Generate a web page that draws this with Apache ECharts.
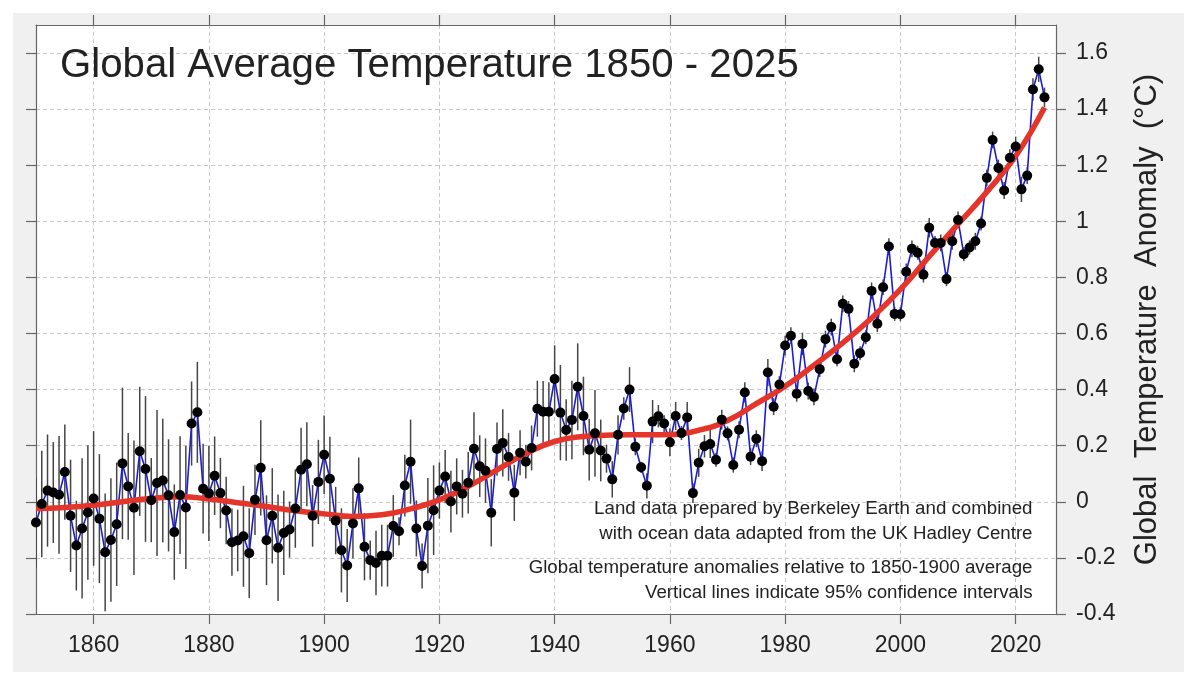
<!DOCTYPE html>
<html>
<head>
<meta charset="utf-8">
<script src="https://cdn.jsdelivr.net/npm/echarts@6.0.0/dist/echarts.min.js"></script>
<style>
  html, body { margin: 0; padding: 0; background: #fff; }
  #main { position: absolute; left: 13px; top: 13px; width: 1171px; height: 659px; }
</style>
</head>
<body>
<div id="main"></div>
<script>
// annual anomalies, 1850 .. 2025 (°C, relative to 1850-1900)
const startYear = 1850;
const anomaly = [
  -0.074, -0.008, 0.04, 0.033, 0.025, 0.106, -0.05, -0.156, -0.095, -0.038,
  0.012, -0.06, -0.18, -0.136, -0.08, 0.137, 0.055, -0.021, 0.18, 0.117,
  0.006, 0.067, 0.076, 0.023, -0.108, 0.024, -0.02, 0.279, 0.319, 0.047,
  0.03, 0.093, 0.031, -0.031, -0.144, -0.138, -0.123, -0.183, 0.007, 0.121,
  -0.137, -0.05, -0.164, -0.111, -0.099, -0.024, 0.114, 0.134, -0.05, 0.071,
  0.168, 0.082, -0.067, -0.173, -0.227, -0.077, 0.048, -0.16, -0.208, -0.218,
  -0.192, -0.192, -0.086, -0.105, 0.058, 0.143, -0.095, -0.229, -0.085, -0.03,
  0.04, 0.09, 0.001, 0.055, 0.029, 0.068, 0.189, 0.127, 0.111, -0.039,
  0.188, 0.21, 0.16, 0.032, 0.175, 0.143, 0.192, 0.332, 0.321, 0.321,
  0.438, 0.318, 0.256, 0.292, 0.41, 0.306, 0.186, 0.244, 0.183, 0.154,
  0.08, 0.239, 0.333, 0.4, 0.196, 0.123, 0.057, 0.286, 0.305, 0.279,
  0.212, 0.306, 0.245, 0.301, 0.031, 0.139, 0.198, 0.206, 0.15, 0.293,
  0.244, 0.131, 0.257, 0.39, 0.161, 0.225, 0.145, 0.461, 0.339, 0.418,
  0.557, 0.592, 0.385, 0.563, 0.395, 0.374, 0.473, 0.58, 0.623, 0.508,
  0.706, 0.688, 0.492, 0.53, 0.587, 0.752, 0.635, 0.765, 0.91, 0.67,
  0.669, 0.82, 0.902, 0.888, 0.81, 0.977, 0.923, 0.923, 0.794, 0.929,
  1.005, 0.883, 0.907, 0.929, 0.992, 1.155, 1.29, 1.19, 1.11, 1.227,
  1.267, 1.114, 1.163, 1.47, 1.542, 1.442
];
// half width of the 95% confidence interval
const uncertainty = [
  0.16, 0.19, 0.2, 0.18, 0.21, 0.17, 0.2, 0.16, 0.25, 0.24,
  0.24, 0.23, 0.21, 0.22, 0.22, 0.27, 0.19, 0.24, 0.23, 0.26,
  0.15, 0.26, 0.22, 0.2, 0.17, 0.21, 0.22, 0.15, 0.18, 0.16,
  0.17, 0.14, 0.125, 0.12, 0.12, 0.11, 0.18, 0.16, 0.125, 0.17,
  0.16, 0.17, 0.19, 0.15, 0.1, 0.14, 0.15, 0.15, 0.11, 0.15,
  0.14, 0.15, 0.12, 0.15, 0.13, 0.125, 0.11, 0.12, 0.07, 0.115,
  0.11, 0.11, 0.11, 0.05, 0.11, 0.15, 0.1, 0.08, 0.17, 0.16,
  0.1, 0.095, 0.11, 0.1, 0.085, 0.11, 0.13, 0.11, 0.115, 0.12,
  0.095, 0.12, 0.085, 0.1, 0.08, 0.06, 0.08, 0.1, 0.11, 0.105,
  0.12, 0.17, 0.11, 0.14, 0.155, 0.14, 0.11, 0.155, 0.11, 0.05,
  0.065, 0.07, 0.04, 0.08, 0.03, 0.02, 0.045, 0.077, 0.04, 0.03,
  0.05, 0.05, 0.025, 0.055, 0.035, 0.05, 0.04, 0.05, 0.025, 0.035,
  0.025, 0.027, 0.03, 0.036, 0.03, 0.03, 0.035, 0.048, 0.03, 0.03,
  0.035, 0.03, 0.028, 0.04, 0.03, 0.03, 0.028, 0.03, 0.03, 0.025,
  0.03, 0.028, 0.03, 0.025, 0.025, 0.03, 0.03, 0.028, 0.03, 0.025,
  0.025, 0.03, 0.03, 0.025, 0.028, 0.035, 0.025, 0.03, 0.025, 0.03,
  0.03, 0.025, 0.025, 0.03, 0.025, 0.03, 0.03, 0.03, 0.03, 0.03,
  0.035, 0.045, 0.03, 0.04, 0.045, 0.035
];
// smoothed trend, read every 5 years
const trendYears = [
  1850, 1855, 1860, 1865, 1870, 1875, 1880, 1885, 1890, 1895, 1900, 1905,
  1910, 1915, 1920, 1925, 1930, 1935, 1940, 1945, 1950, 1955, 1960, 1965,
  1970, 1975, 1980, 1985, 1990, 1995, 2000, 2005, 2010, 2015, 2020, 2025
];
const trendValues = [
  -0.024, -0.02, -0.012, 0.0, 0.012, 0.018, 0.01, -0.003, -0.017, -0.032, -0.043, -0.052,
  -0.046, -0.025, 0.007, 0.055, 0.114, 0.172, 0.215, 0.233, 0.238, 0.239, 0.24, 0.255,
  0.29, 0.35, 0.412, 0.487, 0.567, 0.655, 0.757, 0.875, 0.99, 1.105, 1.233, 1.406
];
const yearTicks = [1860, 1880, 1900, 1920, 1940, 1960, 1980, 2000, 2020];
const tempTicks = [-0.4, -0.2, 0, 0.2, 0.4, 0.6, 0.8, 1, 1.2, 1.4, 1.6];

const titleText = 'Global Average Temperature 1850 - 2025';
const axisName = 'Global  Temperature  Anomaly  (°C)';
const notes = [
  'Land data prepared by Berkeley Earth and combined',
  'with ocean data adapted from the UK Hadley Centre',
  'Global temperature anomalies relative to 1850-1900 average',
  'Vertical lines indicate 95% confidence intervals'
];

const font = "'Liberation Sans', Arial, sans-serif";
const ink = '#222';
const frame = '#666';

const points = anomaly.map((v, i) => [startYear + i, v]);
const bars = anomaly.map((v, i) => [startYear + i, v - uncertainty[i], v + uncertainty[i]]);
const trend = trendYears.map((y, i) => [y, trendValues[i]]);

const chart = echarts.init(document.getElementById('main'));

const gridLine = { show: true, lineStyle: { color: '#c8c8c8', type: [4, 3], width: 1 } };

chart.setOption({
  animation: false,
  backgroundColor: '#f0f0f0',
  textStyle: { fontFamily: font },
  title: {
    text: titleText,
    left: 47,
    top: 33,
    padding: 0,
    textStyle: { fontFamily: font, fontSize: 40.2, fontWeight: 'normal', color: ink }
  },
  graphic: notes.map((t, i) => ({
    type: 'text',
    right: 1171 - 1019.5,
    top: [486, 511, 545, 570][i],
    z: 10,
    style: { text: t, font: '18.7px ' + font, fill: ink, textAlign: 'right' }
  })),
  grid: {
    left: 23, top: 12, right: 128, bottom: 58,
    show: true, backgroundColor: '#fff', borderWidth: 0
  },
  xAxis: [
    {
      type: 'value', min: 1850, max: 2027, position: 'bottom',
      axisLine: { show: true, onZero: false, lineStyle: { color: frame, width: 1.2 } },
      axisTick: { show: true, length: 10, customValues: yearTicks, lineStyle: { color: frame, width: 1.2 } },
      axisLabel: {
        customValues: yearTicks, margin: 20, fontSize: 23, color: ink, fontFamily: font,
        formatter: v => String(v)
      },
      splitLine: gridLine
    },
    {
      type: 'value', min: 1850, max: 2027, position: 'top',
      axisLine: { show: true, onZero: false, lineStyle: { color: frame, width: 1.2 } },
      axisTick: { show: true, length: 10, customValues: yearTicks, lineStyle: { color: frame, width: 1.2 } },
      axisLabel: { show: false },
      splitLine: { show: false }
    }
  ],
  yAxis: [
    {
      type: 'value', min: -0.4, max: 1.7, position: 'right',
      name: axisName,
      nameLocation: 'middle', nameGap: 76, nameRotate: 90,
      nameTextStyle: { fontSize: 31, color: ink, fontFamily: font },
      axisLine: { show: true, onZero: false, lineStyle: { color: frame, width: 1.2 } },
      axisTick: { show: true, length: 10, customValues: tempTicks, lineStyle: { color: frame, width: 1.2 } },
      axisLabel: { customValues: tempTicks, margin: 20, fontSize: 23, color: ink, fontFamily: font },
      splitLine: gridLine
    },
    {
      type: 'value', min: -0.4, max: 1.7, position: 'left',
      axisLine: { show: true, onZero: false, lineStyle: { color: frame, width: 1.2 } },
      axisTick: { show: true, length: 10, customValues: tempTicks, lineStyle: { color: frame, width: 1.2 } },
      axisLabel: { show: false },
      splitLine: { show: false }
    }
  ],
  series: [
    {
      type: 'custom',
      z: 1,
      clip: true,
      data: bars,
      encode: { x: 0, y: [1, 2] },
      renderItem: (params, api) => {
        const lo = api.coord([api.value(0), api.value(1)]);
        const hi = api.coord([api.value(0), api.value(2)]);
        return {
          type: 'line',
          shape: { x1: lo[0], y1: lo[1], x2: hi[0], y2: hi[1] },
          style: { stroke: '#454545', lineWidth: 1.5 }
        };
      }
    },
    {
      type: 'line',
      z: 2,
      data: points,
      showSymbol: false,
      lineStyle: { color: '#1c1cd6', width: 1.6 }
    },
    {
      type: 'line',
      z: 3,
      data: trend,
      smooth: 0.5,
      showSymbol: false,
      lineStyle: { color: '#e5352a', width: 5.5 }
    },
    {
      type: 'scatter',
      z: 4,
      data: points,
      symbol: 'circle',
      symbolSize: 10,
      itemStyle: { color: '#000', opacity: 1 }
    }
  ]
});
</script>
</body>
</html>
